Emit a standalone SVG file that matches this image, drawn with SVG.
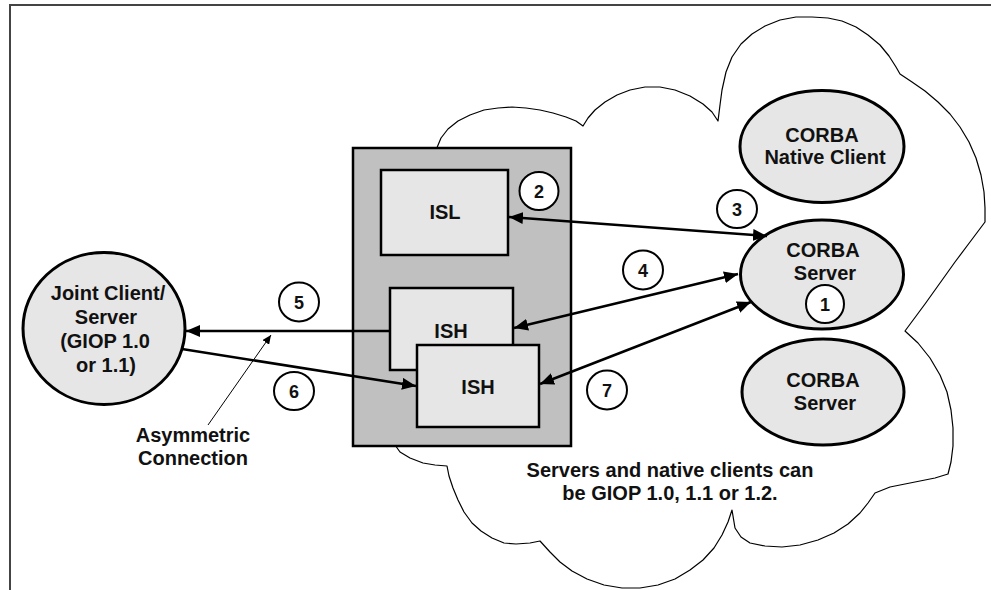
<svg xmlns="http://www.w3.org/2000/svg" width="991" height="590" viewBox="0 0 991 590">
<style>
text{font-family:"Liberation Sans",Arial,sans-serif;font-weight:bold;fill:#111;text-anchor:middle}
.lbl{font-size:20px}
.num{font-size:18px}
.ell{fill:#e6e6e6;stroke:#000;stroke-width:3}
.rbox{fill:#e6e6e6;stroke:#000;stroke-width:2.5}
.badge{fill:#fff;stroke:#000;stroke-width:2}
.conn{stroke:#000;stroke-width:2.5;fill:none}
</style>
<defs>
<marker id="ah" markerUnits="userSpaceOnUse" markerWidth="16" markerHeight="12" refX="14" refY="6" orient="auto-start-reverse">
<path d="M0,0 L14,6 L0,12 Z" fill="#000"/>
</marker>
<marker id="ahs" markerUnits="userSpaceOnUse" markerWidth="10" markerHeight="8" refX="9" refY="4" orient="auto">
<path d="M0,0 L9,4 L0,8 Z" fill="#000"/>
</marker>
</defs>
<rect width="991" height="590" fill="#fff"/>
<g id="frame" fill="none" stroke="#444" stroke-width="2">
<path d="M10,590 L10,5 L991,5"/>
</g>
<g id="cloud" fill="none" stroke="#000" stroke-width="1.2" stroke-linejoin="round">
<polyline points="436,150 441,138 448,129 458,121 470,115 484,110 498,108 512,107 526,108 540,110 553,113 566,117 576,121 583,126 588,118 595,110 605,102 617,95 630,90 645,87 660,87 675,90 690,96 703,104 712,112 718,121 720,105 722,90 726,72 732,57 741,44 752,34 765,26 780,20 796,17 812,17 828,18 842,21 856,27 868,35 880,45 889,56 896,67 900,74 912,82 925,91 938,102 950,114 960,127 969,142 976,158 981,175 984,192 985,208 985,222 970,242 955,262 940,283 925,304 905,331 918,343 930,358 940,375 947,392 951,410 953,428 953,446 951,462 948,474 935,478 920,481 905,484 890,487 875,493 868,503 860,513 848,524 834,533 818,540 800,545 782,547 765,546 750,543 741,537 735,528 732,510 728,522 722,535 714,548 703,560 690,570 675,579 658,585 640,588 622,588 604,585 587,579 572,571 560,562 550,552 540,541 530,543 516,544 504,543 492,538 481,531 472,523 464,512 458,500 453,488 449,476 447,466 435,465 423,463 410,458 400,452 395,445"/>
</g>
<g id="gateway">
<rect x="353" y="148" width="218" height="298" fill="#c0c0c0" stroke="#000" stroke-width="2.5"/>
</g>
<g id="isl">
<rect class="rbox" x="381" y="170" width="127" height="85"/>
<text class="lbl" x="445" y="219">ISL</text>
</g>
<g id="ish1">
<rect class="rbox" x="390" y="288" width="123" height="82"/>
<text class="lbl" x="451" y="338">ISH</text>
</g>
<g id="ish2">
<rect class="rbox" x="417" y="345" width="122" height="82"/>
<text class="lbl" x="478" y="394">ISH</text>
</g>
<g id="native-client">
<ellipse class="ell" cx="822" cy="146.5" rx="82" ry="56"/>
<text class="lbl" x="822" y="142">CORBA</text>
<text class="lbl" x="825" y="164">Native Client</text>
</g>
<g id="server-main">
<ellipse class="ell" cx="822" cy="274.5" rx="81.5" ry="54.5"/>
<text class="lbl" x="823" y="257">CORBA</text>
<text class="lbl" x="825" y="280">Server</text>
</g>
<g id="server-2">
<ellipse class="ell" cx="823" cy="392" rx="81" ry="53"/>
<text class="lbl" x="823" y="387">CORBA</text>
<text class="lbl" x="825" y="410">Server</text>
</g>
<g id="joint">
<ellipse class="ell" cx="104" cy="328.5" rx="81" ry="76"/>
<text class="lbl" x="108" y="300">Joint Client/</text>
<text class="lbl" x="106" y="324">Server</text>
<text class="lbl" x="105" y="348">(GIOP 1.0</text>
<text class="lbl" x="106" y="372">or 1.1)</text>
</g>
<g id="connectors">
<line class="conn" x1="509" y1="217" x2="767" y2="236" marker-start="url(#ah)" marker-end="url(#ah)"/>
<line class="conn" x1="514" y1="328" x2="738" y2="274" marker-start="url(#ah)" marker-end="url(#ah)"/>
<line class="conn" x1="540" y1="384" x2="751" y2="302" marker-start="url(#ah)" marker-end="url(#ah)"/>
<line class="conn" x1="390" y1="331" x2="186" y2="331" marker-end="url(#ah)"/>
<line class="conn" x1="182" y1="349" x2="416" y2="386" marker-end="url(#ah)"/>
<line x1="208" y1="425" x2="271" y2="335" stroke="#000" stroke-width="1" marker-end="url(#ahs)"/>
</g>
<g id="badge-1"><ellipse class="badge" cx="825" cy="304" rx="19" ry="19"/><text class="num" x="825" y="310.5">1</text></g>
<g id="badge-2"><ellipse class="badge" cx="539" cy="191" rx="19.5" ry="19"/><text class="num" x="539" y="197.5">2</text></g>
<g id="badge-3"><ellipse class="badge" cx="737" cy="209" rx="20" ry="19"/><text class="num" x="737" y="215.5">3</text></g>
<g id="badge-4"><ellipse class="badge" cx="643" cy="270" rx="20" ry="19.5"/><text class="num" x="643" y="276.5">4</text></g>
<g id="badge-5"><ellipse class="badge" cx="299" cy="302" rx="20" ry="19.5"/><text class="num" x="299" y="308.5">5</text></g>
<g id="badge-6"><ellipse class="badge" cx="294" cy="391" rx="20" ry="19"/><text class="num" x="294" y="397.5">6</text></g>
<g id="badge-7"><ellipse class="badge" cx="607" cy="390" rx="20" ry="19.5"/><text class="num" x="607" y="396.5">7</text></g>
<g id="labels">
<text class="lbl" x="193" y="442">Asymmetric</text>
<text class="lbl" x="193" y="465">Connection</text>
<text class="lbl" x="670" y="477">Servers and native clients can</text>
<text class="lbl" x="670" y="500">be GIOP 1.0, 1.1 or 1.2.</text>
</g>
</svg>
